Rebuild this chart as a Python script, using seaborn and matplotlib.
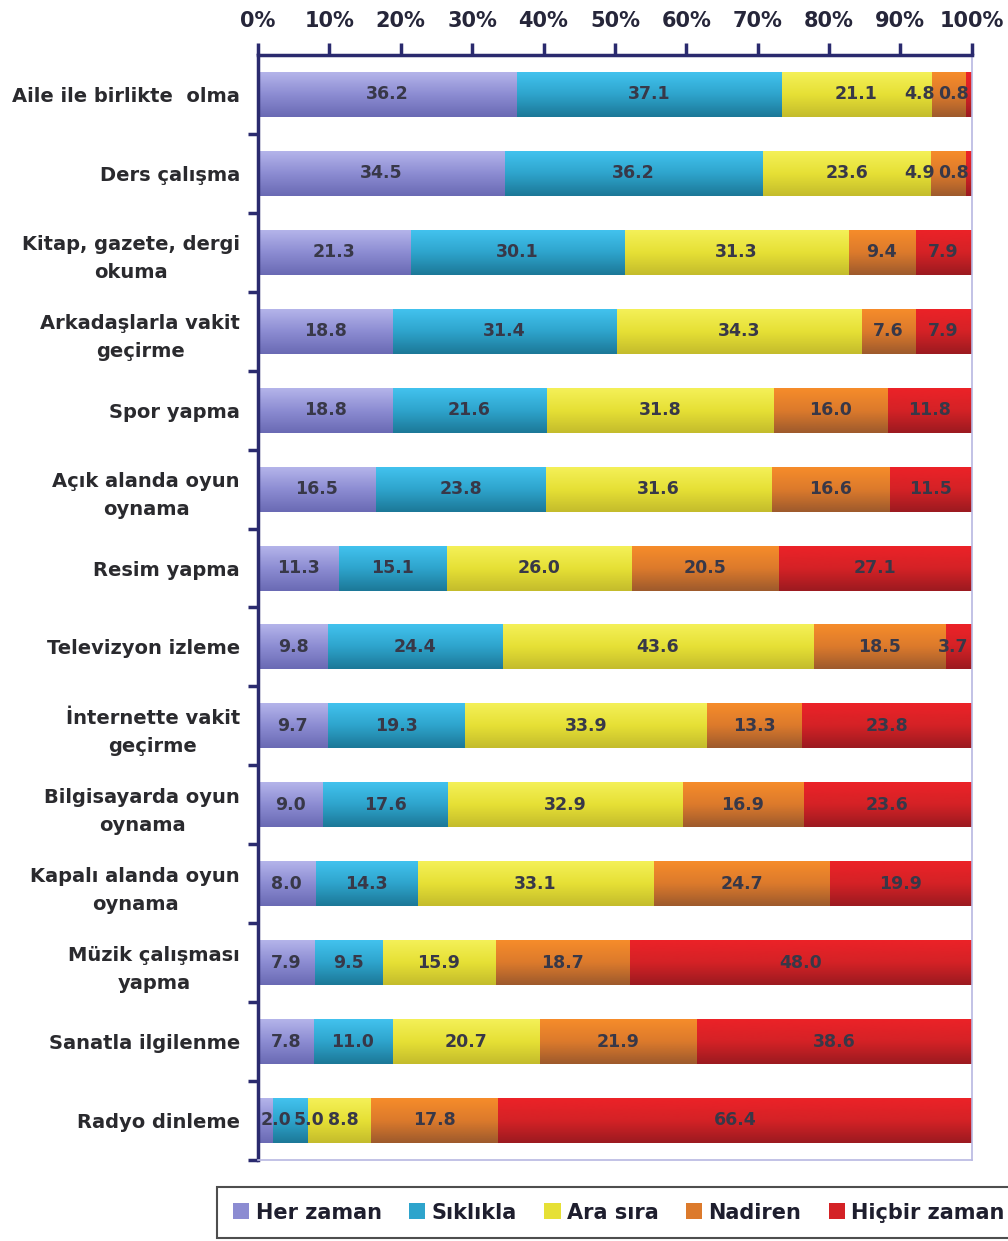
import numpy as np
import pandas as pd
import matplotlib
matplotlib.use('Agg')
import matplotlib.pyplot as plt
import seaborn as sns
from matplotlib.patches import Patch
from matplotlib.colors import LinearSegmentedColormap

# veriler
categories = ["Aile ile birlikte  olma", "Ders çalışma", "Kitap, gazete, dergi\nokuma",
              "Arkadaşlarla vakit\ngeçirme", "Spor yapma", "Açık alanda oyun\noynama",
              "Resim yapma", "Televizyon izleme", "İnternette vakit\ngeçirme",
              "Bilgisayarda oyun\noynama", "Kapalı alanda oyun\noynama",
              "Müzik çalışması\nyapma", "Sanatla ilgilenme", "Radyo dinleme"]
series = ["Her zaman", "Sıklıkla", "Ara sıra", "Nadiren", "Hiçbir zaman"]
her_zaman = [36.2, 34.5, 21.3, 18.8, 18.8, 16.5, 11.3, 9.8, 9.7, 9.0, 8.0, 7.9, 7.8, 2.0]
siklikla = [37.1, 36.2, 30.1, 31.4, 21.6, 23.8, 15.1, 24.4, 19.3, 17.6, 14.3, 9.5, 11.0, 5.0]
ara_sira = [21.1, 23.6, 31.3, 34.3, 31.8, 31.6, 26.0, 43.6, 33.9, 32.9, 33.1, 15.9, 20.7, 8.8]
nadiren = [4.8, 4.9, 9.4, 7.6, 16.0, 16.6, 20.5, 18.5, 13.3, 16.9, 24.7, 18.7, 21.9, 17.8]
hicbir = [0.8, 0.8, 7.9, 7.9, 11.8, 11.5, 27.1, 3.7, 23.8, 23.6, 19.9, 48.0, 38.6, 66.4]

df = pd.DataFrame({"Her zaman": her_zaman, "Sıklıkla": siklikla, "Ara sıra": ara_sira,
                   "Nadiren": nadiren, "Hiçbir zaman": hicbir}, index=categories)
cum = df.cumsum(axis=1)

mid = ['#8c8cd2', '#2ea4cc', '#e6e035', '#dc7a2c', '#d42226']
tops = ['#b4b4ea', '#42c2ee', '#f4f058', '#f68c2a', '#ec2228']
bots = ['#6a6ab4', '#1c7898', '#c4bc2c', '#9e5a2c', '#9c1a20']

navy = '#2a2a6e'
sns.set_theme(style='white')
plt.rcParams['font.family'] = ['DejaVu Sans']

fig = plt.figure(figsize=(10.08, 12.41), dpi=100)
ax = fig.add_axes([0.256, 0.0653, 0.708, 0.8904])

# yığılmış çubuklar: büyükten küçüğe üst üste
bar_h = 0.57
z = 2.0
for k in reversed(range(len(series))):
    n0 = len(ax.patches)
    sns.barplot(x=cum[series[k]].values, y=categories, orient='h', color=mid[k],
                saturation=1, width=bar_h, ax=ax)
    cmap = LinearSegmentedColormap.from_list('g%d' % k, [tops[k], mid[k], bots[k]])
    grad = np.linspace(0, 1, 64).reshape(-1, 1)
    for p in ax.patches[n0:]:
        x0, y0 = p.get_x(), p.get_y()
        w, h = p.get_width(), p.get_height()
        ax.imshow(grad, cmap=cmap, extent=(x0, x0 + w, y0 + h, y0), aspect='auto',
                  origin='upper', zorder=z, interpolation='bicubic')
    z += 0.1

ax.set_xlim(0, 100)
ax.set_ylim(13.5, -0.5)
ax.set(xlabel='', ylabel='')

# değer etiketleri (çakışmaları kaydır)
px_per_unit = 0.708 * 1008 / 100.0
def label_w(s):
    return (sum(12.1 if c.isdigit() else 6.6 for c in s)) / px_per_unit

for i in range(len(categories)):
    vals = df.iloc[i].values
    ends = cum.iloc[i].values
    texts = ['%.1f' % v for v in vals]
    ws = [label_w(t) for t in texts]
    xs = list(ends - vals / 2)
    for j in range(len(xs)):
        bound = 0.3 if j == 0 else xs[j - 1] + ws[j - 1] / 2 + 0.4
        if xs[j] - ws[j] / 2 < bound:
            xs[j] = bound + ws[j] / 2
    for j in reversed(range(len(xs))):
        bound = 99.6 if j == len(xs) - 1 else xs[j + 1] - ws[j + 1] / 2 - 0.4
        if xs[j] + ws[j] / 2 > bound:
            xs[j] = bound - ws[j] / 2
    for j, t in enumerate(texts):
        ax.text(xs[j], i, t, ha='center', va='center', fontsize=12.5,
                fontweight='bold', color='#383848', zorder=10)

# eksenler
ax.xaxis.tick_top()
ax.set_xticks(range(0, 101, 10))
ax.set_xticklabels(['%d%%' % v for v in range(0, 101, 10)], fontsize=15,
                   fontweight='bold', color='#26263a')
ax.tick_params(axis='x', which='major', top=True, bottom=False, labeltop=True,
               labelbottom=False, direction='out', length=9, width=2.5, color=navy, pad=8)

ax.set_yticks(range(len(categories)))
ax.set_yticklabels(categories, fontsize=14, fontweight='bold', color='#2a2a2e',
                   multialignment='center', linespacing=1.6)
ax.set_yticks(np.arange(0.5, 14, 1), minor=True)
ax.tick_params(axis='y', which='major', left=False, length=0, pad=13)
ax.tick_params(axis='y', which='minor', left=True, direction='out', length=7,
               width=2.5, color=navy)

for s in ['left', 'top']:
    ax.spines[s].set_color(navy)
    ax.spines[s].set_linewidth(2.5)
for s in ['right', 'bottom']:
    ax.spines[s].set_color('#b8b8e2')
    ax.spines[s].set_linewidth(1.2)

# lejant
handles = [Patch(facecolor=mid[k], edgecolor='none') for k in range(len(series))]
leg = fig.legend(handles, series, loc='upper left', bbox_to_anchor=(0.205, 0.052),
                 ncol=5, frameon=True, fancybox=False, edgecolor='#222222',
                 prop=dict(weight='bold', size=15), handlelength=0.8, handleheight=0.8,
                 columnspacing=1.3, handletextpad=0.3, borderpad=0.75)
leg.get_frame().set_linewidth(1.5)
for t in leg.get_texts():
    t.set_color('#1e1e2e')

fig.savefig('out.png', dpi=100)
